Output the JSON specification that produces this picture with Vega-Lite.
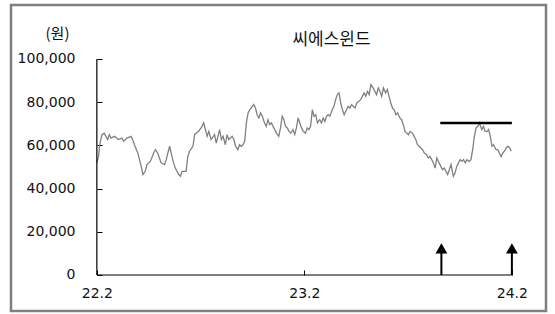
{
  "$schema": "https://vega.github.io/schema/vega-lite/v6.json",
  "width": 535,
  "height": 306,
  "autosize": "none",
  "padding": {"left": 11, "top": 5, "right": 9, "bottom": 3},
  "background": "#ffffff",
  "config": {
    "view": {"stroke": "#7f7f7f", "strokeWidth": 2.5},
    "font": "DejaVu Sans"
  },
  "title": {
    "text": "씨에스윈드",
    "font": "Noto Sans CJK KR",
    "fontSize": 17,
    "fontWeight": "normal",
    "color": "#111111",
    "anchor": "middle",
    "dx": 53,
    "offset": -61,
    "baseline": "bottom"
  },
  "datasets": {
    "price": [
      {"date": "2022-02-01", "price": 51900},
      {"date": "2022-02-04", "price": 54900},
      {"date": "2022-02-06", "price": 60300},
      {"date": "2022-02-10", "price": 65000},
      {"date": "2022-02-14", "price": 65700},
      {"date": "2022-02-17", "price": 64200},
      {"date": "2022-02-20", "price": 62700},
      {"date": "2022-02-23", "price": 65000},
      {"date": "2022-02-26", "price": 63400},
      {"date": "2022-03-04", "price": 64200},
      {"date": "2022-03-11", "price": 62700},
      {"date": "2022-03-17", "price": 63400},
      {"date": "2022-03-20", "price": 61900},
      {"date": "2022-03-26", "price": 63400},
      {"date": "2022-04-02", "price": 64200},
      {"date": "2022-04-05", "price": 62700},
      {"date": "2022-04-08", "price": 60300},
      {"date": "2022-04-14", "price": 56500},
      {"date": "2022-04-17", "price": 53400},
      {"date": "2022-04-20", "price": 50300},
      {"date": "2022-04-23", "price": 46500},
      {"date": "2022-04-27", "price": 48000},
      {"date": "2022-04-30", "price": 51100},
      {"date": "2022-05-06", "price": 52600},
      {"date": "2022-05-12", "price": 56500},
      {"date": "2022-05-15", "price": 58000},
      {"date": "2022-05-19", "price": 56500},
      {"date": "2022-05-22", "price": 54200},
      {"date": "2022-05-25", "price": 51900},
      {"date": "2022-05-31", "price": 51100},
      {"date": "2022-06-03", "price": 53400},
      {"date": "2022-06-06", "price": 56500},
      {"date": "2022-06-09", "price": 59600},
      {"date": "2022-06-13", "price": 54900},
      {"date": "2022-06-16", "price": 51900},
      {"date": "2022-06-19", "price": 49500},
      {"date": "2022-06-25", "price": 46500},
      {"date": "2022-06-28", "price": 45700},
      {"date": "2022-07-01", "price": 48000},
      {"date": "2022-07-08", "price": 48000},
      {"date": "2022-07-11", "price": 54900},
      {"date": "2022-07-14", "price": 57300},
      {"date": "2022-07-20", "price": 59600},
      {"date": "2022-07-23", "price": 65000},
      {"date": "2022-07-30", "price": 66500},
      {"date": "2022-08-05", "price": 68800},
      {"date": "2022-08-08", "price": 70400},
      {"date": "2022-08-11", "price": 67300},
      {"date": "2022-08-14", "price": 64200},
      {"date": "2022-08-17", "price": 66500},
      {"date": "2022-08-21", "price": 62700},
      {"date": "2022-08-27", "price": 65000},
      {"date": "2022-08-30", "price": 61100},
      {"date": "2022-09-02", "price": 64200},
      {"date": "2022-09-05", "price": 67300},
      {"date": "2022-09-08", "price": 62700},
      {"date": "2022-09-11", "price": 64200},
      {"date": "2022-09-15", "price": 60300},
      {"date": "2022-09-18", "price": 65000},
      {"date": "2022-09-21", "price": 62700},
      {"date": "2022-09-24", "price": 63400},
      {"date": "2022-09-27", "price": 64200},
      {"date": "2022-09-30", "price": 62700},
      {"date": "2022-10-03", "price": 59600},
      {"date": "2022-10-07", "price": 58000},
      {"date": "2022-10-10", "price": 60300},
      {"date": "2022-10-13", "price": 59600},
      {"date": "2022-10-16", "price": 60300},
      {"date": "2022-10-19", "price": 61900},
      {"date": "2022-10-22", "price": 70400},
      {"date": "2022-10-25", "price": 75000},
      {"date": "2022-10-28", "price": 76500},
      {"date": "2022-11-04", "price": 78900},
      {"date": "2022-11-07", "price": 77300},
      {"date": "2022-11-10", "price": 74200},
      {"date": "2022-11-13", "price": 72700},
      {"date": "2022-11-16", "price": 75000},
      {"date": "2022-11-19", "price": 73500},
      {"date": "2022-11-23", "price": 70400},
      {"date": "2022-11-26", "price": 68800},
      {"date": "2022-11-29", "price": 71900},
      {"date": "2022-12-02", "price": 69600},
      {"date": "2022-12-05", "price": 70400},
      {"date": "2022-12-08", "price": 68800},
      {"date": "2022-12-11", "price": 67300},
      {"date": "2022-12-14", "price": 65700},
      {"date": "2022-12-18", "price": 64200},
      {"date": "2022-12-21", "price": 68100},
      {"date": "2022-12-24", "price": 73500},
      {"date": "2022-12-27", "price": 71900},
      {"date": "2022-12-30", "price": 68800},
      {"date": "2023-01-02", "price": 68100},
      {"date": "2023-01-05", "price": 66500},
      {"date": "2023-01-08", "price": 65700},
      {"date": "2023-01-12", "price": 67300},
      {"date": "2023-01-15", "price": 65000},
      {"date": "2023-01-18", "price": 68100},
      {"date": "2023-01-21", "price": 72700},
      {"date": "2023-01-24", "price": 70400},
      {"date": "2023-01-27", "price": 68100},
      {"date": "2023-01-30", "price": 66500},
      {"date": "2023-02-03", "price": 65700},
      {"date": "2023-02-06", "price": 68100},
      {"date": "2023-02-09", "price": 67300},
      {"date": "2023-02-12", "price": 68800},
      {"date": "2023-02-15", "price": 76500},
      {"date": "2023-02-18", "price": 73500},
      {"date": "2023-02-21", "price": 74200},
      {"date": "2023-02-24", "price": 70400},
      {"date": "2023-02-28", "price": 71900},
      {"date": "2023-03-03", "price": 70400},
      {"date": "2023-03-06", "price": 72700},
      {"date": "2023-03-09", "price": 71100},
      {"date": "2023-03-12", "price": 73500},
      {"date": "2023-03-15", "price": 74200},
      {"date": "2023-03-18", "price": 73500},
      {"date": "2023-03-22", "price": 76500},
      {"date": "2023-03-25", "price": 78100},
      {"date": "2023-03-28", "price": 81200},
      {"date": "2023-03-31", "price": 83500},
      {"date": "2023-04-03", "price": 84300},
      {"date": "2023-04-06", "price": 79600},
      {"date": "2023-04-09", "price": 76500},
      {"date": "2023-04-12", "price": 74200},
      {"date": "2023-04-16", "price": 76500},
      {"date": "2023-04-19", "price": 78100},
      {"date": "2023-04-22", "price": 77300},
      {"date": "2023-04-25", "price": 78900},
      {"date": "2023-04-28", "price": 78100},
      {"date": "2023-05-01", "price": 77300},
      {"date": "2023-05-04", "price": 79600},
      {"date": "2023-05-08", "price": 80400},
      {"date": "2023-05-11", "price": 81200},
      {"date": "2023-05-14", "price": 82700},
      {"date": "2023-05-17", "price": 84300},
      {"date": "2023-05-20", "price": 82700},
      {"date": "2023-05-23", "price": 85000},
      {"date": "2023-05-26", "price": 83500},
      {"date": "2023-05-29", "price": 88100},
      {"date": "2023-06-02", "price": 86600},
      {"date": "2023-06-05", "price": 85000},
      {"date": "2023-06-08", "price": 83500},
      {"date": "2023-06-11", "price": 86600},
      {"date": "2023-06-14", "price": 85000},
      {"date": "2023-06-17", "price": 82700},
      {"date": "2023-06-20", "price": 86600},
      {"date": "2023-06-24", "price": 84300},
      {"date": "2023-06-27", "price": 85800},
      {"date": "2023-06-30", "price": 82700},
      {"date": "2023-07-03", "price": 79600},
      {"date": "2023-07-06", "price": 77300},
      {"date": "2023-07-09", "price": 76500},
      {"date": "2023-07-12", "price": 74200},
      {"date": "2023-07-15", "price": 75000},
      {"date": "2023-07-19", "price": 72700},
      {"date": "2023-07-22", "price": 71900},
      {"date": "2023-07-25", "price": 69600},
      {"date": "2023-07-28", "price": 66500},
      {"date": "2023-07-31", "price": 65700},
      {"date": "2023-08-03", "price": 65000},
      {"date": "2023-08-06", "price": 66500},
      {"date": "2023-08-10", "price": 65700},
      {"date": "2023-08-13", "price": 64200},
      {"date": "2023-08-16", "price": 62700},
      {"date": "2023-08-19", "price": 60300},
      {"date": "2023-08-22", "price": 59600},
      {"date": "2023-08-25", "price": 58800},
      {"date": "2023-08-28", "price": 58000},
      {"date": "2023-08-31", "price": 56500},
      {"date": "2023-09-04", "price": 55700},
      {"date": "2023-09-07", "price": 54200},
      {"date": "2023-09-10", "price": 54900},
      {"date": "2023-09-13", "price": 53400},
      {"date": "2023-09-16", "price": 51900},
      {"date": "2023-09-19", "price": 49500},
      {"date": "2023-09-22", "price": 54200},
      {"date": "2023-09-26", "price": 51900},
      {"date": "2023-09-29", "price": 50300},
      {"date": "2023-10-02", "price": 48800},
      {"date": "2023-10-05", "price": 49500},
      {"date": "2023-10-08", "price": 48000},
      {"date": "2023-10-11", "price": 46500},
      {"date": "2023-10-14", "price": 48800},
      {"date": "2023-10-17", "price": 51100},
      {"date": "2023-10-21", "price": 45700},
      {"date": "2023-10-24", "price": 47200},
      {"date": "2023-10-27", "price": 50300},
      {"date": "2023-10-30", "price": 51900},
      {"date": "2023-11-02", "price": 53400},
      {"date": "2023-11-05", "price": 52600},
      {"date": "2023-11-08", "price": 53400},
      {"date": "2023-11-11", "price": 51900},
      {"date": "2023-11-14", "price": 53400},
      {"date": "2023-11-18", "price": 52600},
      {"date": "2023-11-21", "price": 53400},
      {"date": "2023-11-24", "price": 58000},
      {"date": "2023-11-27", "price": 64200},
      {"date": "2023-11-30", "price": 68100},
      {"date": "2023-12-03", "price": 68800},
      {"date": "2023-12-06", "price": 70400},
      {"date": "2023-12-10", "price": 67300},
      {"date": "2023-12-13", "price": 68800},
      {"date": "2023-12-16", "price": 66500},
      {"date": "2023-12-19", "price": 66500},
      {"date": "2023-12-22", "price": 67300},
      {"date": "2023-12-25", "price": 64200},
      {"date": "2023-12-28", "price": 59600},
      {"date": "2023-12-31", "price": 60300},
      {"date": "2024-01-04", "price": 58000},
      {"date": "2024-01-07", "price": 58000},
      {"date": "2024-01-10", "price": 56500},
      {"date": "2024-01-13", "price": 54900},
      {"date": "2024-01-16", "price": 56500},
      {"date": "2024-01-19", "price": 57300},
      {"date": "2024-01-22", "price": 58800},
      {"date": "2024-01-25", "price": 59600},
      {"date": "2024-01-28", "price": 58800},
      {"date": "2024-01-31", "price": 57300}
    ],
    "signals": [
      {"date": "2023-09-30"},
      {"date": "2024-02-01"}
    ]
  },
  "layer": [
    {
      "data": {"name": "price"},
      "mark": {"type": "line", "color": "#808080", "strokeWidth": 1.3, "interpolate": "linear"},
      "encoding": {
        "x": {
          "field": "date",
          "type": "temporal",
          "scale": {"type": "utc", "domain": ["2021-09-03", "2024-04-01"], "nice": false},
          "axis": {
            "orient": "bottom",
            "offset": -36,
            "values": [
              {"year": 2022, "month": 2, "date": 1, "utc": true},
              {"year": 2023, "month": 2, "date": 1, "utc": true},
              {"year": 2024, "month": 2, "date": 1, "utc": true}
            ],
            "labelExpr": "utcFormat(datum.value, '%y.%-m')",
            "domain": false,
            "grid": false,
            "ticks": true,
            "tickSize": -5,
            "tickColor": "#000000",
            "tickWidth": 1,
            "labelPadding": 16,
            "labelFont": "DejaVu Sans",
            "labelFontSize": 14,
            "labelColor": "#111111",
            "labelFlush": false,
            "labelOverlap": false,
            "title": null
          }
        },
        "y": {
          "field": "price",
          "type": "quantitative",
          "scale": {"domain": [-16667, 125000], "nice": false, "zero": false},
          "axis": {
            "orient": "left",
            "offset": -86,
            "values": [0, 20000, 40000, 60000, 80000, 100000],
            "labelExpr": "format(datum.value, ',.0f')",
            "domain": false,
            "grid": false,
            "ticks": true,
            "tickSize": -5,
            "tickColor": "#000000",
            "tickWidth": 1,
            "labelPadding": 27,
            "labelFont": "DejaVu Sans",
            "labelFontSize": 14,
            "labelColor": "#111111",
            "labelFlush": false,
            "labelOverlap": false,
            "title": "(원)",
            "titleAngle": 0,
            "titleAlign": "center",
            "titleBaseline": "middle",
            "titleX": -40,
            "titleY": 28,
            "titleFont": "Noto Sans CJK KR",
            "titleFontSize": 15,
            "titleFontWeight": "normal",
            "titleColor": "#111111"
          }
        }
      }
    },
    {
      "data": {"values": [{}]},
      "mark": {"type": "rule", "color": "#000000", "strokeWidth": 1.2},
      "encoding": {
        "x": {"datum": 1643673600000, "type": "temporal"},
        "x2": {"datum": 1706745600000},
        "y": {"datum": 0, "type": "quantitative"}
      }
    },
    {
      "data": {"values": [{}]},
      "mark": {"type": "rule", "color": "#000000", "strokeWidth": 1.2},
      "encoding": {
        "x": {"datum": 1643673600000, "type": "temporal"},
        "y": {"datum": 0, "type": "quantitative"},
        "y2": {"datum": 100000}
      }
    },
    {
      "data": {"values": [{}]},
      "mark": {"type": "rule", "color": "#000000", "strokeWidth": 2.6},
      "encoding": {
        "x": {"datum": 1695859200000, "type": "temporal"},
        "x2": {"datum": 1706745600000},
        "y": {"datum": 70400, "type": "quantitative"}
      }
    },
    {
      "data": {"name": "signals"},
      "mark": {"type": "rule", "color": "#000000", "strokeWidth": 2},
      "encoding": {
        "x": {"field": "date", "type": "temporal"},
        "y": {"datum": 0, "type": "quantitative"},
        "y2": {"datum": 11500}
      }
    },
    {
      "data": {"name": "signals"},
      "mark": {"type": "point", "shape": "triangle-up", "filled": true, "color": "#000000", "size": 140, "opacity": 1},
      "encoding": {
        "x": {"field": "date", "type": "temporal"},
        "y": {"datum": 12300, "type": "quantitative"}
      }
    }
  ]
}
